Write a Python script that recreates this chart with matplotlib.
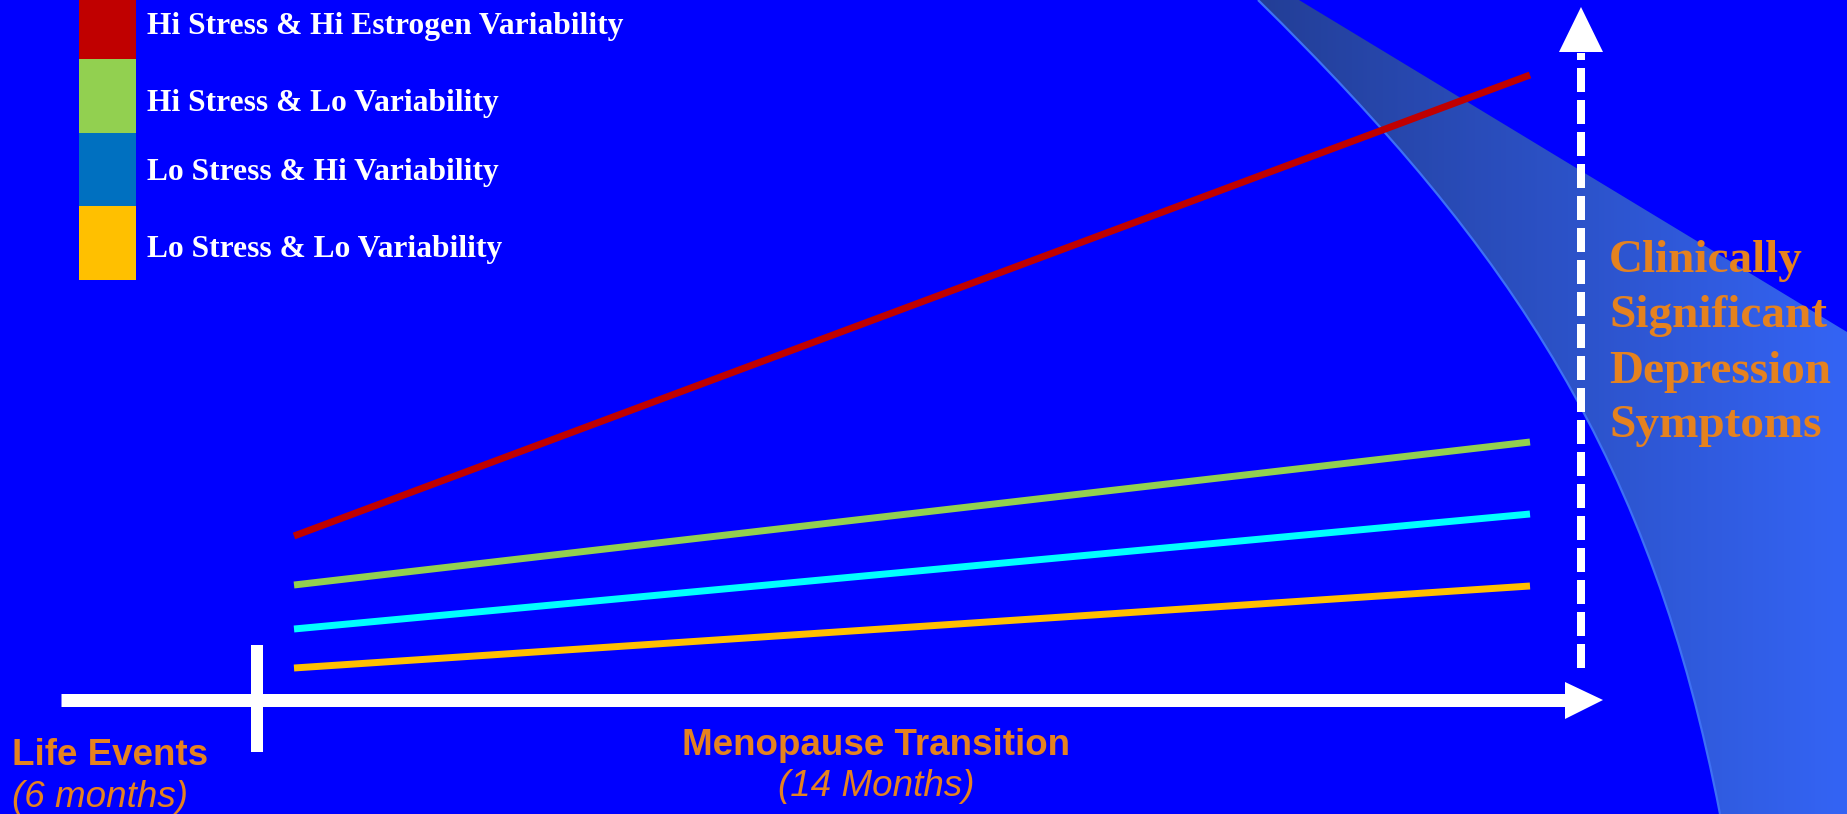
import numpy as np
import matplotlib
matplotlib.use("Agg")
import matplotlib.pyplot as plt
from matplotlib.patches import Rectangle, PathPatch, Polygon
from matplotlib.path import Path

# Depressive-symptom trajectories across the menopause transition (months 0-14)
months = [0, 14]
series_labels = [
    "Hi Stress & Hi Estrogen Variability",
    "Hi Stress & Lo Variability",
    "Lo Stress & Hi Variability",
    "Lo Stress & Lo Variability",
]
hi_stress_hi_var = [16.4, 62.5]
hi_stress_lo_var = [11.5, 25.8]
lo_stress_hi_var = [7.1, 18.6]
lo_stress_lo_var = [3.2, 11.4]
series_values = [hi_stress_hi_var, hi_stress_lo_var, lo_stress_hi_var, lo_stress_lo_var]
line_colors = ["#C00000", "#92D050", "#00FFFF", "#FFC000"]
key_colors = ["#C00000", "#92D050", "#0070C0", "#FFC000"]

threshold_label = ["Clinically", "Significant", "Depression", "Symptoms"]
period_titles = ["Life Events", "Menopause Transition"]
period_spans = ["(6 months)", "(14 Months)"]

W, H = 1847, 814
BG = "#0000FF"
ORANGE = "#E5821F"

fig = plt.figure(figsize=(W / 100, H / 100), dpi=100, facecolor=BG)

# Background layer in pixel units: threshold band, arrows, key and labels
bg = fig.add_axes([0, 0, 1, 1])
bg.set_xlim(0, W)
bg.set_ylim(H, 0)
bg.set_facecolor(BG)
bg.axis("off")

# Curved "clinically significant" band with a horizontal colour gradient
codes = [Path.MOVETO, Path.CURVE4, Path.CURVE4, Path.CURVE4,
         Path.LINETO, Path.LINETO, Path.LINETO, Path.CLOSEPOLY]
verts = [(1258, 0), (1515, 252), (1652, 463), (1720, 814),
         (1847, 814), (1847, 332), (1299, 0), (1258, 0)]
band = PathPatch(Path(verts, codes), facecolor="none", edgecolor="none")
bg.add_patch(band)
c0 = np.array([35, 62, 150]) / 255
c1 = np.array([52, 100, 245]) / 255
t = np.linspace(0, 1, 256)
grad = (c0[None, :] * (1 - t[:, None]) + c1[None, :] * t[:, None])[None, :, :]
grad = np.repeat(grad, 2, axis=0)
img = bg.imshow(grad, extent=(1258, 1847, 814, 0), aspect="auto",
                interpolation="bilinear", zorder=1)
img.set_clip_path(band)
edge = Path([(1258, 0), (1515, 252), (1652, 463), (1720, 814)],
            [Path.MOVETO, Path.CURVE4, Path.CURVE4, Path.CURVE4])
bg.add_patch(PathPatch(edge, facecolor="none", edgecolor="#3E70F5", lw=1.6, zorder=2))

# Time axis with arrow head and the life-events divider
bg.plot([61, 1566], [700, 700], color="white", lw=13 * 0.72,
        solid_capstyle="butt", zorder=3)
bg.add_patch(Polygon([(1565, 682), (1603, 700), (1565, 719)], closed=True,
                     facecolor="white", edgecolor="none", zorder=3))
bg.plot([257, 257], [645, 752], color="white", lw=12 * 0.72,
        solid_capstyle="butt", zorder=3)

# Dashed vertical symptom axis with arrow head
bg.plot([1581, 1581], [668, 53], color="white", lw=8 * 0.72,
        dashes=(3.0, 1.0), solid_capstyle="butt", dash_capstyle="butt", zorder=3)
bg.add_patch(Polygon([(1559, 52), (1581, 7), (1603, 52)], closed=True,
                     facecolor="white", edgecolor="none", zorder=3))

# Colour key
key_edges = [0, 59, 133, 206, 280]
key_baselines = [34, 111, 180, 257]
for i, (lab, col) in enumerate(zip(series_labels, key_colors)):
    bg.add_patch(Rectangle((79, key_edges[i]), 57, key_edges[i + 1] - key_edges[i],
                           facecolor=col, edgecolor="none", zorder=3))
    bg.text(147, key_baselines[i], lab, color="white", fontsize=22.7,
            fontfamily="Liberation Serif", fontweight="bold", va="baseline",
            ha="left", zorder=4)

# Threshold label
for lab, yb in zip(threshold_label, [272, 327, 383, 437]):
    bg.text(1609, yb, lab, color=ORANGE, fontsize=34,
            fontfamily="Liberation Serif", fontweight="bold", va="baseline",
            ha="left", zorder=4)

# Period labels under the time axis
bg.text(12, 765, period_titles[0], color=ORANGE, fontsize=26.5,
        fontfamily="Liberation Sans", fontweight="bold", va="baseline", ha="left")
bg.text(12, 807, period_spans[0], color=ORANGE, fontsize=26.5,
        fontfamily="Liberation Sans", fontstyle="italic", va="baseline", ha="left")
bg.text(876, 755, period_titles[1], color=ORANGE, fontsize=26.5,
        fontfamily="Liberation Sans", fontweight="bold", va="baseline", ha="center")
bg.text(876, 796, period_spans[1], color=ORANGE, fontsize=26.5,
        fontfamily="Liberation Sans", fontstyle="italic", va="baseline", ha="center")

# Data layer: months on x, symptom score on y
ax = fig.add_axes([0, 0, 1, 1])
ax.patch.set_alpha(0)
ax.axis("off")
px_per_month = (1530 - 294) / 14
ax.set_xlim(-294 / px_per_month, (W - 294) / px_per_month)
ax.set_ylim((700 - H) / 10, 70)
for vals, col in zip(series_values, line_colors):
    ax.plot(months, vals, color=col, lw=5, solid_capstyle="butt")

fig.savefig("out.png", dpi=100, facecolor=BG)
